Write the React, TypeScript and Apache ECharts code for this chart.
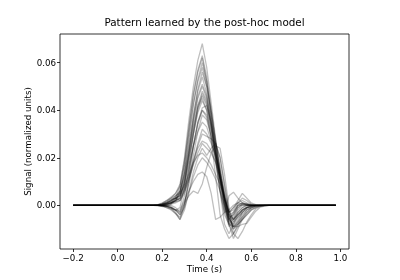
import React, { useEffect, useRef } from "react";
import * as echarts from "echarts";

// Sample times (s) of the active window; outside it every trace is flat at 0
const WINDOW_TIMES = [
  0.16, 0.18, 0.2, 0.22, 0.24, 0.26, 0.28, 0.3, 0.32, 0.34, 0.36, 0.38, 0.4, 0.42,
  0.44, 0.46, 0.48, 0.5, 0.52, 0.54, 0.56, 0.58, 0.6, 0.62, 0.64, 0.66, 0.68, 0.7,
];
const LEAD_TIMES = [-0.2, 0.14];
const TRAIL_TIMES = [0.72, 0.98];

// Per-channel patterns, in units of 1e-3 (normalized units)
const P01 = [0, 0, 0.3, 0.8, 1.5, 3, 8, 20, 36, 50, 61, 68, 58, 43, 28, 15, 3, -6, -4, 0, 1, 0.5, 0, -0.2, -0.2, -0.1, 0, 0];
const P02 = [0, -0.2, -0.5, -0.5, 0.5, 2, 6, 17, 32, 47, 57, 63, 54, 40, 26, 12, 1, -7, -5, -1, 0.5, 0.5, 0.2, 0, 0, 0, 0, 0];
const P03 = [0, 0.2, 0.8, 2, 3.5, 5, 9, 19, 33, 46, 56, 62, 52, 38, 24, 11, 0, -8, -6, -2, 0, 0.3, 0.2, 0, 0, 0, 0, 0];
const P04 = [0, 0, 0, 0.5, 1, 2, 5, 14, 28, 42, 53, 60, 52, 40, 27, 13, 2, -5, -9, -6, -3, -1, -0.5, -0.2, 0, 0, 0, 0];
const P05 = [0, 0.2, 0.5, 1.5, 3, 5, 8, 17, 30, 43, 52, 58, 50, 37, 22, 9, -2, -9, -7, -3, -1, 0, 0, 0, 0, 0, 0, 0];
const P06 = [0, 0, -0.3, -1, -1.5, -2, -1, 8, 22, 37, 49, 56, 50, 39, 27, 14, 3, -4, -3, 0, 1, 0.5, 0, 0, 0, 0, 0, 0];
const P07 = [0, 0, 0.5, 1, 2, 3.5, 6, 14, 26, 38, 48, 54, 47, 35, 22, 10, -1, -8, -12, -9, -5, -2, -1, -0.3, 0, 0, 0, 0];
const P08 = [0, 0, 0, 0.3, 1, 2.5, 5.5, 13, 24, 36, 46, 51, 46, 36, 24, 13, 3, -3, -1, 1, 2, 1, 0.3, 0, 0, 0, 0, 0];
const P09 = [0, 0, -0.2, -0.5, -1, -2, -3, 4, 16, 30, 42, 48, 44, 34, 23, 12, 2, -6, -8, -5, -2, -1, -0.3, 0, 0, 0, 0, 0];
const P10 = [0, 0.3, 1, 2, 3, 4, 6, 12, 22, 33, 42, 46, 42, 33, 23, 13, 4, -4, -6, -3, -1, 0, 0, 0, 0, 0, 0, 0];
const P11 = [0, 0, 0, 0.5, 1, 2, 4, 10, 20, 30, 39, 44, 40, 32, 22, 12, 3, -5, -4, -1, 0.5, 0.5, 0, 0, 0, 0, 0, 0];
const P12 = [0, 0, 0, 0, 0.5, 1, 2, 7, 15, 25, 35, 41, 42, 35, 26, 16, 5, -3, -6, -4, -2, -0.5, 0, 0, 0, 0, 0, 0];
const P13 = [0, 0.2, 0.6, 1.5, 2.5, 3, 2, 6, 14, 25, 34, 40, 37, 29, 20, 10, 0, -7, -10, -7, -3, -1, -0.5, 0, 0, 0, 0, 0];
const P14 = [0, 0, -0.3, -1, -2, -3.5, -5, 0, 10, 21, 31, 38, 36, 29, 21, 12, 2, -8, -14, -10, -6, -3, -1, -0.5, -0.2, 0, 0, 0];
const P15 = [0, 0, 0.3, 0.8, 1.5, 3, 4.5, 9, 17, 25, 31, 35, 33, 27, 19, 11, 3, -3, -1, 2, 5, 3, 1, 0.3, 0, 0, 0, 0];
const P16 = [0, 0, 0, 0, -0.5, -2, -4, 1, 9, 18, 26, 32, 30, 26, 21, 14, 5, -4, -7, -5, -3, -1.5, -0.5, 0, 0, 0, 0, 0];
const P17 = [0, 0, 0.3, 1, 2, 3, 4, 7, 12, 19, 25, 30, 29, 28, 26, 20, 9, -2, -6, -4, -2, -1, 0, 0, 0, 0, 0, 0];
const P18 = [0, 0, 0, 0.5, 1, 1.5, 2, 5, 11, 18, 24, 27, 26, 23, 18, 11, 3, -5, -9, -7, -5, -3, -1.5, -0.5, 0, 0, 0, 0];
const P19 = [0, 0, -0.2, -0.5, -1, -3, -6, -2, 6, 14, 20, 24, 21, 24, 26, 20, 8, -4, -10, -8, -4, -2, -1, -0.3, 0, 0, 0, 0];
const P20 = [0, 0, 0.4, 1, 2, 4, 5, 8, 13, 18, 21, 22, 20, 17, 13, 9, 3, -3, -2, 1, 3, 2, 0.5, 0, 0, 0, 0, 0];
const P21 = [0, 0, 0, -0.3, -1, -2, -4, -1, 5, 12, 17, 20, 18, 15, 11, 6, 0, -6, -9, -8, -6, -4, -2, -1, -0.3, 0, 0, 0];
const P22 = [0, 0, 0, 0, 0, -1, -3, 1, 4, 6, 5, 9, 16, 22, 18, 6, -8, -12, -8, -4, -2, -1, -0.5, 0, 0, 0, 0, 0];
const P23 = [0, 0, 0.2, 0.6, 1.2, 2, 3, 6, 11, 17, 22, 26, 24, 22, 25, 24, 13, -1, -12, -14, -11, -7, -4, -1.5, -0.5, 0, 0, 0];
const P24 = [0, 0, -0.2, -0.4, -1, -2, -2, 2, 6, 10, 13, 14, 12, 5, -6, -5, -3, -2, 0, 1, 0.5, 0, 0, 0, 0, 0, 0, 0];
const P25 = [0, 0, 0, 0.5, 1, 2, 3, 10, 21, 32, 41, 45, 40, 28, 12, -4, -10, -14, -12, -8, -6, -4, -2, -1, -0.4, -0.2, 0, 0];
const P26 = [0, 0, 0, 0.2, 0.8, 1.5, 3, 9, 19, 30, 40, 47, 43, 33, 19, 6, -4, -8, -9, -9, -8, -7.6, -5, -2.5, -0.8, -0.3, 0, 0];
const P27 = [0, 0, 0.5, 1, 2, 3, 4, 11, 23, 35, 45, 50, 45, 34, 20, 6, -3, 4, 5.5, 3, 1, 0, 0, 0, 0, 0, 0, 0];
const P28 = [0, 0, 0, -0.5, -1.5, -3.5, -6, 0, 12, 25, 35, 40, 38, 31, 22, 12, 2, -6, -3, 0, 0, 0, 0, 0, 0, 0, 0, 0];

const PATTERNS = [
  P01, P02, P03, P04, P05, P06, P07, P08, P09, P10, P11, P12, P13, P14,
  P15, P16, P17, P18, P19, P20, P21, P22, P23, P24, P25, P26, P27, P28,
];

const X_TICKS = [-0.2, 0, 0.2, 0.4, 0.6, 0.8, 1.0];
const Y_TICKS = [0, 0.02, 0.04, 0.06];

const TITLE = "Pattern learned by the post-hoc model";
const X_NAME = "Time (s)";
const Y_NAME = "Signal (normalized units)";

const FONT = "DejaVu Sans, sans-serif";

export default function App() {
  const ref = useRef<HTMLDivElement>(null);

  useEffect(() => {
    if (!ref.current) return;
    const chart = echarts.init(ref.current, null, { renderer: "svg" });

    const series = PATTERNS.map((p) => {
      const data: number[][] = [];
      LEAD_TIMES.forEach((t) => data.push([t, 0]));
      WINDOW_TIMES.forEach((t, i) => data.push([t, p[i] / 1000]));
      TRAIL_TIMES.forEach((t) => data.push([t, 0]));
      return {
        type: "line",
        data,
        showSymbol: false,
        symbol: "none",
        silent: true,
        lineStyle: { color: "rgba(0,0,0,0.25)", width: 1.3 },
      };
    });

    const minus = (s: string) => s.replace("-", "\u2212");

    chart.setOption({
      animation: false,
      grid: {
        left: 60,
        right: 51,
        top: 34,
        bottom: 31,
        show: true,
        borderColor: "#000",
        borderWidth: 0.8,
        backgroundColor: "transparent",
      },
      xAxis: {
        type: "value",
        min: -0.259,
        max: 1.039,
        splitLine: { show: false },
        axisLine: { show: false, onZero: false },
        axisTick: {
          show: true,
          customValues: X_TICKS,
          length: 3,
          lineStyle: { color: "#000", width: 0.8 },
        },
        axisLabel: {
          customValues: X_TICKS,
          formatter: (v: number) => minus(v.toFixed(1)),
          margin: 4,
          fontSize: 8.7,
          color: "#000",
          fontFamily: FONT,
        },
      },
      yAxis: {
        type: "value",
        min: -0.0184,
        max: 0.0721,
        splitLine: { show: false },
        axisLine: { show: false, onZero: false },
        axisTick: {
          show: true,
          customValues: Y_TICKS,
          length: 3,
          lineStyle: { color: "#000", width: 0.8 },
        },
        axisLabel: {
          customValues: Y_TICKS,
          formatter: (v: number) => minus(v.toFixed(2)),
          margin: 4,
          fontSize: 8.7,
          color: "#000",
          fontFamily: FONT,
        },
      },
      graphic: [
        {
          type: "text",
          x: 204.5,
          y: 22,
          style: {
            text: TITLE,
            fontSize: 10.4,
            fontFamily: FONT,
            fill: "#000",
            align: "center",
            verticalAlign: "middle",
          },
        },
        {
          type: "text",
          x: 204.5,
          y: 269,
          style: {
            text: X_NAME,
            fontSize: 8.7,
            fontFamily: FONT,
            fill: "#000",
            align: "center",
            verticalAlign: "middle",
          },
        },
        {
          type: "text",
          x: 28,
          y: 141.5,
          rotation: Math.PI / 2,
          style: {
            text: Y_NAME,
            fontSize: 8.7,
            fontFamily: FONT,
            fill: "#000",
            align: "center",
            verticalAlign: "middle",
          },
        },
      ],
      series,
    });

    return () => chart.dispose();
  }, []);

  return (
    <div
      ref={ref}
      style={{ position: "fixed", left: 0, top: 0, width: 400, height: 280 }}
    />
  );
}
